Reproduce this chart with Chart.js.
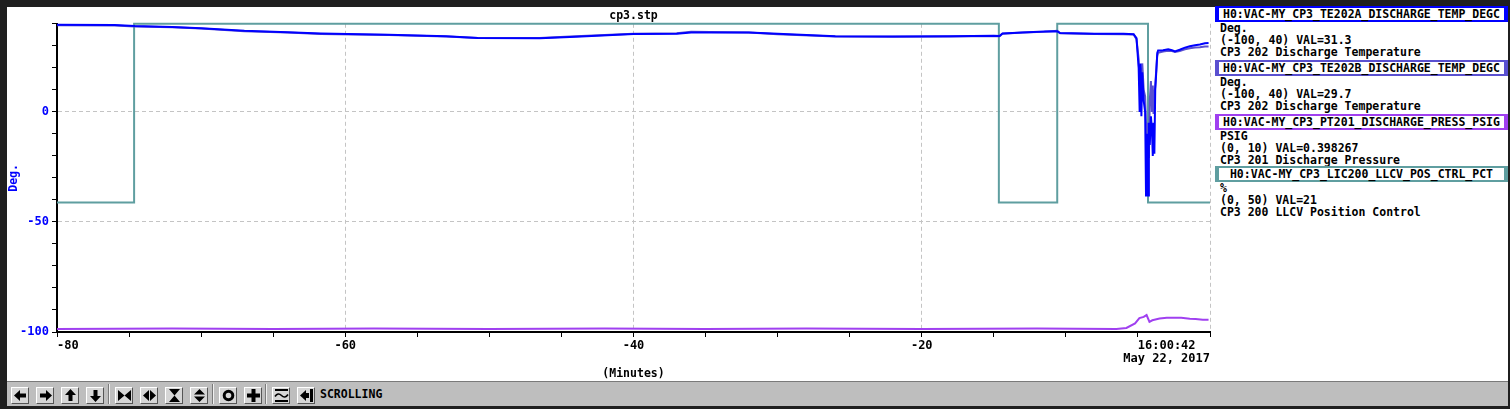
<!DOCTYPE html>
<html>
<head>
<meta charset="utf-8">
<script src="https://cdn.jsdelivr.net/npm/chart.js@4.4.1/dist/chart.umd.min.js"></script>
<style>
    body {
        margin: 0;
        width: 1510px;
        height: 409px;
        background: #1f1f1f;
        overflow: hidden;
        font-family: 'DejaVu Sans Mono', monospace;
        font-weight: bold;
    }
    #panel { position: absolute; left: 7px; top: 7px; width: 1501px; height: 374px; background: #fff; }
    #chart { position: absolute; left: 7px; top: 7px; }
    .entry { position: absolute; left: 1215px; width: 293px; font-size: 11.5px; line-height: 12px; color: #000; }
    .entry .head {
        box-sizing: border-box; height: 16px; border-style: solid; border-width: 2px 4px;
        text-align: center; line-height: 12px; white-space: pre;
    }
    .entry .line { padding-left: 5px; white-space: pre; }
    #toolbar {
        position: absolute; left: 7px; top: 381px; width: 1501px; height: 24px;
        background: #bebebe; border-top: 1px solid #7a7a7a;
    }
    .btn {
        position: absolute; top: 5px; width: 18px; height: 17px; box-sizing: border-box;
        background: #d6d6d6; border: 1px solid; border-color: #fff #555 #555 #fff;
    }
    .btn svg { position: absolute; left: 1px; top: 0px; width: 15px; height: 15px; }
    .sep { position: absolute; top: 2px; height: 20px; width: 0; border-left: 1px solid #7a7a7a; border-right: 1px solid #f0f0f0; }
    #mode { position: absolute; left: 313px; top: 5px; font-size: 11.5px; line-height: 14px; color: #000; }
</style>
</head>
<body>
<div id="panel"></div>
<canvas id="chart" width="1205" height="373"></canvas>

<div class="entry" style="top:6px">
    <div class="head" style="border-color:#0000ff">H0:VAC-MY_CP3_TE202A_DISCHARGE_TEMP_DEGC</div>
    <div class="line">Deg.</div>
    <div class="line">(-100, 40) VAL=31.3</div>
    <div class="line">CP3 202 Discharge Temperature</div>
</div>
<div class="entry" style="top:60px">
    <div class="head" style="border-color:#5a50d0">H0:VAC-MY_CP3_TE202B_DISCHARGE_TEMP_DEGC</div>
    <div class="line">Deg.</div>
    <div class="line">(-100, 40) VAL=29.7</div>
    <div class="line">CP3 202 Discharge Temperature</div>
</div>
<div class="entry" style="top:114px">
    <div class="head" style="border-color:#a040f0">H0:VAC-MY_CP3_PT201_DISCHARGE_PRESS_PSIG</div>
    <div class="line">PSIG</div>
    <div class="line">(0, 10) VAL=0.398267</div>
    <div class="line">CP3 201 Discharge Pressure</div>
</div>
<div class="entry" style="top:166px">
    <div class="head" style="border-color:#5f9ea0">H0:VAC-MY_CP3_LIC200_LLCV_POS_CTRL_PCT</div>
    <div class="line">%</div>
    <div class="line">(0, 50) VAL=21</div>
    <div class="line">CP3 200 LLCV Position Control</div>
</div>

<div id="toolbar">
    <div class="btn" style="left:4px"><svg viewBox="0 0 15 15"><path d="M1 7.5 L7 2 V5.5 H13 V9.5 H7 V13 Z"/></svg></div>
    <div class="btn" style="left:29px"><svg viewBox="0 0 15 15"><path d="M14 7.5 L8 2 V5.5 H2 V9.5 H8 V13 Z"/></svg></div>
    <div class="btn" style="left:54px"><svg viewBox="0 0 15 15"><path d="M7.5 1 L13 7 H9.5 V13 H5.5 V7 H2 Z"/></svg></div>
    <div class="btn" style="left:79px"><svg viewBox="0 0 15 15"><path d="M7.5 14 L13 8 H9.5 V2 H5.5 V8 H2 Z"/></svg></div>
    <div class="sep" style="left:101px"></div>
    <div class="btn" style="left:108px"><svg viewBox="0 0 15 15"><path d="M1 2 L7.5 7.5 L1 13 Z M14 2 L7.5 7.5 L14 13 Z"/></svg></div>
    <div class="btn" style="left:133px"><svg viewBox="0 0 15 15"><path d="M7 2 L1 7.5 L7 13 Z M8 2 L14 7.5 L8 13 Z"/></svg></div>
    <div class="btn" style="left:158px"><svg viewBox="0 0 15 15"><path d="M2 1 H13 L7.5 7.5 Z M2 14 H13 L7.5 7.5 Z"/></svg></div>
    <div class="btn" style="left:183px"><svg viewBox="0 0 15 15"><path d="M7.5 1 L13 6.5 H2 Z M7.5 14 L13 8.5 H2 Z"/></svg></div>
    <div class="sep" style="left:205px"></div>
    <div class="btn" style="left:212px"><svg viewBox="0 0 15 15"><circle cx="7.5" cy="7.5" r="4.3" fill="none" stroke="#000" stroke-width="3"/></svg></div>
    <div class="btn" style="left:237px"><svg viewBox="0 0 15 15"><path d="M5.5 1 H9.5 V5.5 H14 V9.5 H9.5 V14 H5.5 V9.5 H1 V5.5 H5.5 Z"/></svg></div>
    <div class="sep" style="left:258px"></div>
    <div class="btn" style="left:265px"><svg viewBox="0 0 15 15"><rect x="1" y="1" width="13" height="2"/><rect x="1" y="12" width="13" height="2"/><path d="M1 8.5 Q4 4 7.5 7.5 T14 6.5" fill="none" stroke="#000" stroke-width="1.6"/></svg></div>
    <div class="btn" style="left:290px"><svg viewBox="0 0 15 15"><path d="M1 7.5 L7 2 V13 Z"/><rect x="7" y="5" width="3" height="5"/><rect x="11" y="1" width="3" height="13"/></svg></div>
    <div id="mode">SCROLLING</div>
</div>

<script>
// Strip chart data (x in minutes before 16:00:42)
const minutes = [
    -80, -76, -74.6, -72, -70, -67, -64, -61.7, -57, -53,
    -50.8, -46.5, -44, -40, -37, -36, -32, -30, -26, -22,
    -18, -15, -14.6, -14.4, -13, -11.5, -10.6, -10.4, -8, -6,
    -5.3, -5.1, -4.95, -4.88, -4.82, -4.76, -4.7, -4.6, -4.5, -4.44,
    -4.38, -4.3, -4.24, -4.18, -4.1, -4.03, -3.97, -3.92, -3.86, -3.8,
    -3.72, -3.66, -3.6, -3.26, -2.9, -2.64, -2.43, -2.1, -1.74, -1.4,
    -1.04, -0.7, -0.35, -0.1
];
const tempA = [
    39.6, 39.5, 39.0, 38.6, 38.0, 36.8, 36.2, 35.6, 35.0, 34.3,
    33.5, 33.4, 34.1, 35.4, 35.5, 36.1, 36.1, 35.5, 34.3, 34.2,
    34.3, 34.6, 34.5, 35.6, 36.1, 36.5, 36.6, 35.8, 35.5, 35.5,
    35.3, 33.5, 20, 0, 22, -2, 18, 5, 0, -38,
    -10, -38, -5, -15, -2, -8, -20, -5, -19, 10,
    19, 26.8, 27.9, 28.0, 28.4, 28.0, 27.4, 28.2, 29.2, 29.8,
    30.3, 30.6, 31.2, 31.3
];
const tempB = [
    39.3, 39.2, 38.8, 38.4, 37.9, 36.6, 36.0, 35.4, 34.9, 34.2,
    33.6, 33.5, 34.3, 35.5, 35.7, 36.4, 36.0, 35.3, 34.2, 34.1,
    34.2, 34.5, 34.4, 35.5, 36.0, 36.4, 36.8, 35.7, 35.4, 35.3,
    35.1, 33.0, 24, 12, 20, 8, 22, 10, 7, -5,
    -22, -10, -21, 5, 14, 0, 12, -1, 6, 12,
    20, 25.5, 26.8, 27.4, 27.8, 27.6, 27.2, 27.6, 28.4, 28.9,
    29.2, 29.4, 29.7, 29.7
];
const pressMinutes = [-80, -72, -65, -58, -50, -42, -35, -28, -20, -12, -6.5, -5.8, -5.2, -4.9, -4.6, -4.4, -4.2, -4.0, -3.5, -3.0, -2.0, -1.4, -1.0, -0.5, -0.1];
const pressure = [0.10, 0.11, 0.10, 0.11, 0.10, 0.11, 0.10, 0.11, 0.10, 0.11, 0.10, 0.13, 0.28, 0.45, 0.49, 0.55, 0.33, 0.38, 0.44, 0.46, 0.46, 0.43, 0.42, 0.40, 0.398];
const llcvMinutes = [-80, -74.65, -14.65, -10.6, -4.3, 0];
const llcvPct = [21, 50, 21, 50, 21, 21];

const xLabelsMajor = [-80, -60, -40, -20];
const xLastLabel = ['16:00:42  ', 'May 22, 2017'];
const yLabels = [0, -50, -100];

const FONT = 'DejaVu Sans Mono';
Chart.defaults.font.family = FONT;
Chart.defaults.font.weight = 'bold';

function pts(xs, ys) {
    return xs.map((x, i) => ({ x: x, y: ys[i] }));
}

new Chart(document.getElementById('chart'), {
    type: 'line',
    data: {
        datasets: [
            { data: pts(minutes, tempA), yAxisID: 'y', borderColor: '#0000ff', borderWidth: 2, pointRadius: 0, clip: 3 },
            { data: pts(minutes, tempB), yAxisID: 'y', borderColor: '#5a50d0', borderWidth: 2, pointRadius: 0, clip: 3 },
            { data: pts(pressMinutes, pressure), yAxisID: 'yPress', borderColor: '#a040f0', borderWidth: 2, pointRadius: 0, clip: 3 },
            { data: pts(llcvMinutes, llcvPct), yAxisID: 'yPct', borderColor: '#5f9ea0', borderWidth: 2, pointRadius: 0, stepped: 'before', clip: 3 }
        ]
    },
    options: {
        responsive: false,
        animation: false,
        events: [],
        layout: { padding: { left: 0, right: 2, top: 0, bottom: 0 } },
        plugins: {
            legend: { display: false },
            tooltip: { enabled: false },
            title: {
                display: true,
                text: 'cp3.stp',
                color: '#000',
                fullSize: false,
                font: { size: 11.5, weight: 'bold', lineHeight: 1.2 },
                padding: { top: 2, bottom: 1 }
            }
        },
        scales: {
            x: {
                type: 'linear',
                min: -80,
                max: 0,
                afterFit: s => { s.height = 48; },
                border: { color: '#000', width: 2, dash: [4, 3] },
                grid: {
                    color: ctx => (ctx.tick && ctx.tick.value % 20 === 0) ? '#c4c4c4' : 'rgba(0,0,0,0)',
                    tickColor: '#000',
                    tickLength: 5,
                    tickWidth: 1,
                    tickBorderDash: []
                },
                ticks: {
                    stepSize: 5,
                    autoSkip: false,
                    maxRotation: 0,
                    align: 'inner',
                    padding: 2,
                    color: '#000',
                    font: { size: 12, weight: 'bold', lineHeight: 1.1 },
                    callback: v => v === 0 ? xLastLabel : (xLabelsMajor.includes(v) ? String(v) : '')
                },
                title: {
                    display: true,
                    text: '(Minutes)',
                    color: '#000',
                    font: { size: 11.5, weight: 'bold', lineHeight: 1 },
                    padding: 0
                }
            },
            y: {
                min: -100,
                max: 40,
                afterFit: s => { s.width = 50; },
                border: { color: '#000', width: 2, dash: [4, 3] },
                grid: {
                    color: ctx => (ctx.tick && yLabels.includes(ctx.tick.value)) ? '#c4c4c4' : 'rgba(0,0,0,0)',
                    tickColor: '#000',
                    tickLength: 5,
                    tickWidth: 1,
                    tickBorderDash: []
                },
                ticks: {
                    stepSize: 10,
                    autoSkip: false,
                    padding: 3,
                    color: '#0000ff',
                    font: { size: 12, weight: 'bold' },
                    callback: v => yLabels.includes(v) ? String(v) : ''
                },
                title: {
                    display: true,
                    text: 'Deg.',
                    color: '#0000ff',
                    font: { size: 11.5, weight: 'bold' },
                    padding: 0
                }
            },
            yPress: { display: false, min: 0, max: 10 },
            yPct: { display: false, min: 0, max: 50 }
        }
    }
});
</script>
</body>
</html>
